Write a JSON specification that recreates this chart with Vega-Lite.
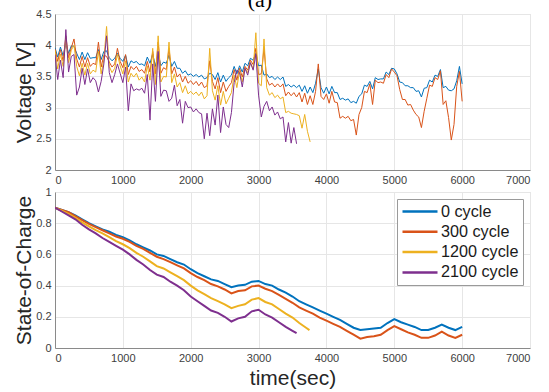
{
"$schema":"https://vega.github.io/schema/vega-lite/v6.json",
"padding":{"left":13,"top":-12,"right":0,"bottom":0},
"title":{"text":"(a)","font":"Liberation Serif","fontSize":22,"fontWeight":"normal","color":"#000000","anchor":"middle","offset":-4,"dx":-12},
"spacing":-1,
"resolve":{"scale":{"color":"independent"}},
"config":{
"view":{"stroke":"#d4d4d4"},
"axis":{"labelFont":"Liberation Sans","labelFontSize":11,"labelColor":"#404040","titleFont":"Liberation Sans","titleFontSize":21,"titleFontWeight":"normal","titleColor":"#262626","gridColor":"#e6e6e6","domainColor":"#8a8a8a","ticks":false,"labelPadding":4},
"legend":{"labelFont":"Liberation Sans","labelFontSize":16.2,"labelColor":"#1a1a1a","symbolType":"M-1,0H4","symbolSize":196,"symbolStrokeWidth":2.5,"strokeColor":"#9a9a9a","fillColor":"#ffffff","padding":4,"labelOffset":23,"rowPadding":3.3}
},
"datasets":{
"v0":[{"t":0,"v":3.96},{"t":40,"v":3.81},{"t":80,"v":3.97},{"t":120,"v":3.83},{"t":160,"v":4.03},{"t":200,"v":3.87},{"t":240,"v":3.99},{"t":280,"v":3.98},{"t":320,"v":3.87},{"t":360,"v":3.77},{"t":400,"v":3.89},{"t":440,"v":3.77},{"t":480,"v":3.88},{"t":520,"v":3.79},{"t":560,"v":3.8},{"t":600,"v":3.8},{"t":640,"v":3.93},{"t":680,"v":3.77},{"t":720,"v":3.9},{"t":760,"v":3.91},{"t":800,"v":3.8},{"t":840,"v":3.75},{"t":880,"v":3.79},{"t":920,"v":3.87},{"t":960,"v":3.79},{"t":1000,"v":3.74},{"t":1040,"v":3.84},{"t":1080,"v":3.65},{"t":1120,"v":3.75},{"t":1160,"v":3.72},{"t":1200,"v":3.74},{"t":1240,"v":3.69},{"t":1280,"v":3.7},{"t":1320,"v":3.67},{"t":1360,"v":3.81},{"t":1400,"v":3.71},{"t":1440,"v":3.86},{"t":1480,"v":3.66},{"t":1520,"v":3.87},{"t":1560,"v":3.67},{"t":1600,"v":3.73},{"t":1640,"v":3.71},{"t":1680,"v":3.84},{"t":1720,"v":3.66},{"t":1760,"v":3.74},{"t":1800,"v":3.63},{"t":1840,"v":3.63},{"t":1880,"v":3.55},{"t":1920,"v":3.59},{"t":1960,"v":3.52},{"t":2000,"v":3.54},{"t":2040,"v":3.5},{"t":2080,"v":3.53},{"t":2120,"v":3.49},{"t":2160,"v":3.52},{"t":2200,"v":3.46},{"t":2240,"v":3.48},{"t":2280,"v":3.55},{"t":2320,"v":3.53},{"t":2360,"v":3.45},{"t":2400,"v":3.56},{"t":2440,"v":3.41},{"t":2480,"v":3.52},{"t":2520,"v":3.42},{"t":2560,"v":3.48},{"t":2600,"v":3.52},{"t":2640,"v":3.66},{"t":2680,"v":3.54},{"t":2720,"v":3.67},{"t":2760,"v":3.57},{"t":2800,"v":3.71},{"t":2840,"v":3.67},{"t":2880,"v":3.79},{"t":2920,"v":3.76},{"t":2960,"v":3.87},{"t":3000,"v":3.67},{"t":3040,"v":3.68},{"t":3080,"v":3.52},{"t":3120,"v":3.54},{"t":3160,"v":3.48},{"t":3200,"v":3.5},{"t":3240,"v":3.45},{"t":3280,"v":3.49},{"t":3320,"v":3.45},{"t":3360,"v":3.49},{"t":3400,"v":3.34},{"t":3440,"v":3.37},{"t":3480,"v":3.33},{"t":3520,"v":3.36},{"t":3560,"v":3.32},{"t":3600,"v":3.36},{"t":3640,"v":3.26},{"t":3680,"v":3.35},{"t":3720,"v":3.23},{"t":3760,"v":3.33},{"t":3800,"v":3.24},{"t":3840,"v":3.39},{"t":3880,"v":3.62},{"t":3920,"v":3.32},{"t":3960,"v":3.23},{"t":4000,"v":3.33},{"t":4040,"v":3.22},{"t":4080,"v":3.34},{"t":4120,"v":3.24},{"t":4160,"v":3.24},{"t":4200,"v":3.13},{"t":4240,"v":3.15},{"t":4280,"v":3.12},{"t":4320,"v":3.14},{"t":4360,"v":3.08},{"t":4400,"v":3.1},{"t":4440,"v":3.07},{"t":4480,"v":3.18},{"t":4520,"v":3.22},{"t":4560,"v":3.36},{"t":4600,"v":3.34},{"t":4640,"v":3.42},{"t":4680,"v":3.3},{"t":4720,"v":3.48},{"t":4760,"v":3.45},{"t":4800,"v":3.46},{"t":4840,"v":3.46},{"t":4880,"v":3.57},{"t":4920,"v":3.53},{"t":4960,"v":3.63},{"t":5000,"v":3.62},{"t":5040,"v":3.54},{"t":5080,"v":3.41},{"t":5120,"v":3.4},{"t":5160,"v":3.35},{"t":5200,"v":3.35},{"t":5240,"v":3.32},{"t":5280,"v":3.32},{"t":5320,"v":3.26},{"t":5360,"v":3.27},{"t":5400,"v":3.17},{"t":5440,"v":3.31},{"t":5480,"v":3.32},{"t":5520,"v":3.44},{"t":5560,"v":3.41},{"t":5600,"v":3.52},{"t":5640,"v":3.5},{"t":5680,"v":3.61},{"t":5720,"v":3.32},{"t":5760,"v":3.34},{"t":5800,"v":3.28},{"t":5840,"v":3.27},{"t":5880,"v":3.3},{"t":5920,"v":3.43},{"t":5960,"v":3.66},{"t":6000,"v":3.38}],
"v300":[{"t":0,"v":3.94},{"t":40,"v":3.74},{"t":80,"v":3.93},{"t":120,"v":3.75},{"t":160,"v":4.15},{"t":200,"v":3.8},{"t":240,"v":3.96},{"t":280,"v":4.1},{"t":320,"v":3.78},{"t":360,"v":3.65},{"t":400,"v":3.82},{"t":440,"v":3.65},{"t":480,"v":3.8},{"t":520,"v":3.66},{"t":560,"v":3.71},{"t":600,"v":3.69},{"t":640,"v":4.05},{"t":680,"v":3.65},{"t":720,"v":3.84},{"t":760,"v":3.82},{"t":800,"v":3.73},{"t":840,"v":3.65},{"t":880,"v":3.7},{"t":920,"v":3.95},{"t":960,"v":3.74},{"t":1000,"v":3.64},{"t":1040,"v":3.85},{"t":1080,"v":3.53},{"t":1120,"v":3.66},{"t":1160,"v":3.61},{"t":1200,"v":3.66},{"t":1240,"v":3.58},{"t":1280,"v":3.61},{"t":1320,"v":3.55},{"t":1360,"v":3.74},{"t":1400,"v":3.57},{"t":1440,"v":3.9},{"t":1480,"v":3.54},{"t":1520,"v":4.05},{"t":1560,"v":3.55},{"t":1600,"v":3.64},{"t":1640,"v":3.61},{"t":1680,"v":3.95},{"t":1720,"v":3.54},{"t":1760,"v":3.65},{"t":1800,"v":3.49},{"t":1840,"v":3.54},{"t":1880,"v":3.41},{"t":1920,"v":3.5},{"t":1960,"v":3.39},{"t":2000,"v":3.43},{"t":2040,"v":3.37},{"t":2080,"v":3.42},{"t":2120,"v":3.35},{"t":2160,"v":3.41},{"t":2200,"v":3.32},{"t":2240,"v":3.35},{"t":2280,"v":3.75},{"t":2320,"v":3.42},{"t":2360,"v":3.3},{"t":2400,"v":3.48},{"t":2440,"v":3.24},{"t":2480,"v":3.41},{"t":2520,"v":3.26},{"t":2560,"v":3.34},{"t":2600,"v":3.4},{"t":2640,"v":3.61},{"t":2680,"v":3.44},{"t":2720,"v":3.63},{"t":2760,"v":3.49},{"t":2800,"v":3.66},{"t":2840,"v":3.6},{"t":2880,"v":3.76},{"t":2920,"v":3.69},{"t":2960,"v":3.95},{"t":3000,"v":3.53},{"t":3040,"v":3.54},{"t":3080,"v":3.95},{"t":3120,"v":3.46},{"t":3160,"v":3.36},{"t":3200,"v":3.39},{"t":3240,"v":3.33},{"t":3280,"v":3.38},{"t":3320,"v":3.33},{"t":3360,"v":3.38},{"t":3400,"v":3.19},{"t":3440,"v":3.25},{"t":3480,"v":3.19},{"t":3520,"v":3.24},{"t":3560,"v":3.17},{"t":3600,"v":3.24},{"t":3640,"v":3.09},{"t":3680,"v":3.23},{"t":3720,"v":3.05},{"t":3760,"v":3.19},{"t":3800,"v":3.05},{"t":3840,"v":3.26},{"t":3880,"v":3.7},{"t":3920,"v":3.18},{"t":3960,"v":3.13},{"t":4000,"v":3.22},{"t":4040,"v":3.07},{"t":4080,"v":3.26},{"t":4120,"v":3.09},{"t":4160,"v":3.08},{"t":4200,"v":2.83},{"t":4240,"v":2.86},{"t":4280,"v":2.83},{"t":4320,"v":2.86},{"t":4360,"v":2.79},{"t":4400,"v":2.81},{"t":4440,"v":2.56},{"t":4480,"v":2.89},{"t":4520,"v":3.0},{"t":4560,"v":3.26},{"t":4600,"v":3.24},{"t":4640,"v":3.38},{"t":4680,"v":3.05},{"t":4720,"v":3.44},{"t":4760,"v":3.4},{"t":4800,"v":3.41},{"t":4840,"v":3.39},{"t":4880,"v":3.53},{"t":4920,"v":3.48},{"t":4960,"v":3.62},{"t":5000,"v":3.57},{"t":5040,"v":3.51},{"t":5080,"v":3.29},{"t":5120,"v":3.13},{"t":5160,"v":3.13},{"t":5200,"v":3.04},{"t":5240,"v":3.05},{"t":5280,"v":2.96},{"t":5320,"v":2.89},{"t":5360,"v":2.85},{"t":5400,"v":2.68},{"t":5440,"v":2.94},{"t":5480,"v":3.15},{"t":5520,"v":3.36},{"t":5560,"v":3.34},{"t":5600,"v":3.48},{"t":5640,"v":3.45},{"t":5680,"v":3.59},{"t":5720,"v":3.05},{"t":5760,"v":3.11},{"t":5800,"v":2.84},{"t":5840,"v":2.48},{"t":5880,"v":2.73},{"t":5920,"v":3.34},{"t":5960,"v":3.58},{"t":6000,"v":3.1}],
"v1200":[{"t":0,"v":3.92},{"t":40,"v":3.62},{"t":80,"v":3.86},{"t":120,"v":3.66},{"t":160,"v":4.1},{"t":200,"v":3.72},{"t":240,"v":3.92},{"t":280,"v":4.0},{"t":320,"v":3.66},{"t":360,"v":3.51},{"t":400,"v":3.71},{"t":440,"v":3.52},{"t":480,"v":3.71},{"t":520,"v":3.54},{"t":560,"v":3.6},{"t":600,"v":3.57},{"t":640,"v":3.9},{"t":680,"v":3.54},{"t":720,"v":3.77},{"t":760,"v":4.3},{"t":800,"v":3.66},{"t":840,"v":3.56},{"t":880,"v":3.63},{"t":920,"v":3.85},{"t":960,"v":3.67},{"t":1000,"v":3.54},{"t":1040,"v":3.75},{"t":1080,"v":3.41},{"t":1120,"v":3.55},{"t":1160,"v":3.49},{"t":1200,"v":3.55},{"t":1240,"v":3.44},{"t":1280,"v":3.49},{"t":1320,"v":3.41},{"t":1360,"v":3.67},{"t":1400,"v":3.44},{"t":1440,"v":3.95},{"t":1480,"v":3.37},{"t":1520,"v":4.15},{"t":1560,"v":3.41},{"t":1600,"v":3.5},{"t":1640,"v":3.49},{"t":1680,"v":4.05},{"t":1720,"v":3.4},{"t":1760,"v":3.54},{"t":1800,"v":3.33},{"t":1840,"v":3.4},{"t":1880,"v":3.24},{"t":1920,"v":3.35},{"t":1960,"v":3.22},{"t":2000,"v":3.26},{"t":2040,"v":3.21},{"t":2080,"v":3.25},{"t":2120,"v":3.19},{"t":2160,"v":3.25},{"t":2200,"v":3.14},{"t":2240,"v":3.19},{"t":2280,"v":3.95},{"t":2320,"v":3.27},{"t":2360,"v":3.12},{"t":2400,"v":3.35},{"t":2440,"v":3.04},{"t":2480,"v":3.26},{"t":2520,"v":3.06},{"t":2560,"v":3.15},{"t":2600,"v":3.24},{"t":2640,"v":3.52},{"t":2680,"v":3.32},{"t":2720,"v":3.59},{"t":2760,"v":3.41},{"t":2800,"v":3.63},{"t":2840,"v":3.56},{"t":2880,"v":3.72},{"t":2920,"v":3.62},{"t":2960,"v":4.2},{"t":3000,"v":3.39},{"t":3040,"v":3.35},{"t":3080,"v":4.1},{"t":3120,"v":3.32},{"t":3160,"v":3.2},{"t":3200,"v":3.24},{"t":3240,"v":3.16},{"t":3280,"v":3.2},{"t":3320,"v":3.14},{"t":3360,"v":3.17},{"t":3400,"v":2.92},{"t":3440,"v":2.94},{"t":3480,"v":2.91},{"t":3520,"v":2.9},{"t":3560,"v":2.89},{"t":3600,"v":2.87},{"t":3640,"v":2.67},{"t":3680,"v":2.89},{"t":3720,"v":2.62},{"t":3760,"v":2.45}],
"v2100":[{"t":0,"v":3.85},{"t":40,"v":3.45},{"t":80,"v":3.76},{"t":120,"v":3.48},{"t":160,"v":4.25},{"t":200,"v":3.57},{"t":240,"v":3.82},{"t":280,"v":3.85},{"t":320,"v":3.2},{"t":360,"v":3.33},{"t":400,"v":3.63},{"t":440,"v":3.37},{"t":480,"v":3.62},{"t":520,"v":3.4},{"t":560,"v":3.48},{"t":600,"v":3.43},{"t":640,"v":3.25},{"t":680,"v":3.42},{"t":720,"v":3.7},{"t":760,"v":4.15},{"t":800,"v":3.56},{"t":840,"v":3.4},{"t":880,"v":3.53},{"t":920,"v":3.7},{"t":960,"v":3.55},{"t":1000,"v":3.4},{"t":1040,"v":3.65},{"t":1080,"v":2.95},{"t":1120,"v":3.38},{"t":1160,"v":3.27},{"t":1200,"v":3.3},{"t":1240,"v":3.28},{"t":1280,"v":3.31},{"t":1320,"v":3.23},{"t":1360,"v":3.53},{"t":1400,"v":2.8},{"t":1440,"v":3.7},{"t":1480,"v":3.1},{"t":1520,"v":3.9},{"t":1560,"v":3.18},{"t":1600,"v":3.28},{"t":1640,"v":3.27},{"t":1680,"v":3.1},{"t":1720,"v":3.15},{"t":1760,"v":3.36},{"t":1800,"v":3.03},{"t":1840,"v":3.13},{"t":1880,"v":2.75},{"t":1920,"v":3.1},{"t":1960,"v":3.0},{"t":2000,"v":3.01},{"t":2040,"v":2.93},{"t":2080,"v":2.98},{"t":2120,"v":2.92},{"t":2160,"v":2.9},{"t":2200,"v":2.5},{"t":2240,"v":2.91},{"t":2280,"v":2.55},{"t":2320,"v":2.98},{"t":2360,"v":2.72},{"t":2400,"v":3.2},{"t":2440,"v":2.6},{"t":2480,"v":3.01},{"t":2520,"v":2.73},{"t":2560,"v":2.68},{"t":2600,"v":2.92},{"t":2640,"v":3.4},{"t":2680,"v":3.6},{"t":2720,"v":3.56},{"t":2760,"v":3.33},{"t":2800,"v":3.63},{"t":2840,"v":3.52},{"t":2880,"v":3.72},{"t":2920,"v":3.6},{"t":2960,"v":3.85},{"t":3000,"v":3.2},{"t":3040,"v":2.85},{"t":3080,"v":3.02},{"t":3120,"v":3.1},{"t":3160,"v":2.95},{"t":3200,"v":3.01},{"t":3240,"v":2.88},{"t":3280,"v":2.93},{"t":3320,"v":2.82},{"t":3360,"v":2.85},{"t":3400,"v":2.45},{"t":3440,"v":2.76},{"t":3480,"v":2.43},{"t":3520,"v":2.68},{"t":3560,"v":2.42}],
"q0":[{"t":0,"q":0.9},{"t":100,"q":0.885},{"t":200,"q":0.87},{"t":300,"q":0.85},{"t":400,"q":0.825},{"t":500,"q":0.8},{"t":600,"q":0.78},{"t":700,"q":0.76},{"t":800,"q":0.745},{"t":900,"q":0.725},{"t":1000,"q":0.71},{"t":1100,"q":0.69},{"t":1200,"q":0.665},{"t":1300,"q":0.645},{"t":1400,"q":0.625},{"t":1500,"q":0.6},{"t":1600,"q":0.59},{"t":1700,"q":0.57},{"t":1800,"q":0.55},{"t":1900,"q":0.535},{"t":2000,"q":0.505},{"t":2100,"q":0.48},{"t":2200,"q":0.46},{"t":2300,"q":0.44},{"t":2400,"q":0.43},{"t":2500,"q":0.41},{"t":2600,"q":0.39},{"t":2700,"q":0.4},{"t":2800,"q":0.405},{"t":2900,"q":0.425},{"t":3000,"q":0.43},{"t":3100,"q":0.41},{"t":3200,"q":0.4},{"t":3300,"q":0.375},{"t":3400,"q":0.355},{"t":3500,"q":0.33},{"t":3600,"q":0.3},{"t":3700,"q":0.28},{"t":3800,"q":0.26},{"t":3900,"q":0.24},{"t":4000,"q":0.22},{"t":4100,"q":0.2},{"t":4200,"q":0.18},{"t":4300,"q":0.155},{"t":4400,"q":0.13},{"t":4500,"q":0.115},{"t":4600,"q":0.12},{"t":4700,"q":0.125},{"t":4800,"q":0.13},{"t":4900,"q":0.16},{"t":5000,"q":0.185},{"t":5100,"q":0.165},{"t":5200,"q":0.15},{"t":5300,"q":0.135},{"t":5400,"q":0.115},{"t":5500,"q":0.115},{"t":5600,"q":0.13},{"t":5700,"q":0.15},{"t":5800,"q":0.13},{"t":5900,"q":0.115},{"t":6000,"q":0.135}],
"q300":[{"t":0,"q":0.9},{"t":100,"q":0.885},{"t":200,"q":0.87},{"t":300,"q":0.845},{"t":400,"q":0.82},{"t":500,"q":0.795},{"t":600,"q":0.775},{"t":700,"q":0.755},{"t":800,"q":0.735},{"t":900,"q":0.715},{"t":1000,"q":0.7},{"t":1100,"q":0.68},{"t":1200,"q":0.655},{"t":1300,"q":0.635},{"t":1400,"q":0.61},{"t":1500,"q":0.585},{"t":1600,"q":0.57},{"t":1700,"q":0.55},{"t":1800,"q":0.53},{"t":1900,"q":0.51},{"t":2000,"q":0.48},{"t":2100,"q":0.455},{"t":2200,"q":0.435},{"t":2300,"q":0.41},{"t":2400,"q":0.395},{"t":2500,"q":0.375},{"t":2600,"q":0.35},{"t":2700,"q":0.365},{"t":2800,"q":0.37},{"t":2900,"q":0.395},{"t":3000,"q":0.4},{"t":3100,"q":0.38},{"t":3200,"q":0.365},{"t":3300,"q":0.34},{"t":3400,"q":0.315},{"t":3500,"q":0.29},{"t":3600,"q":0.26},{"t":3700,"q":0.24},{"t":3800,"q":0.22},{"t":3900,"q":0.195},{"t":4000,"q":0.175},{"t":4100,"q":0.155},{"t":4200,"q":0.135},{"t":4300,"q":0.11},{"t":4400,"q":0.085},{"t":4500,"q":0.06},{"t":4600,"q":0.07},{"t":4700,"q":0.075},{"t":4800,"q":0.085},{"t":4900,"q":0.115},{"t":5000,"q":0.14},{"t":5100,"q":0.12},{"t":5200,"q":0.1},{"t":5300,"q":0.085},{"t":5400,"q":0.065},{"t":5500,"q":0.065},{"t":5600,"q":0.08},{"t":5700,"q":0.105},{"t":5800,"q":0.08},{"t":5900,"q":0.065},{"t":6000,"q":0.085}],
"q1200":[{"t":0,"q":0.9},{"t":100,"q":0.88},{"t":200,"q":0.86},{"t":300,"q":0.835},{"t":400,"q":0.805},{"t":500,"q":0.78},{"t":600,"q":0.755},{"t":700,"q":0.735},{"t":800,"q":0.71},{"t":900,"q":0.685},{"t":1000,"q":0.665},{"t":1100,"q":0.64},{"t":1200,"q":0.61},{"t":1300,"q":0.585},{"t":1400,"q":0.555},{"t":1500,"q":0.525},{"t":1600,"q":0.51},{"t":1700,"q":0.485},{"t":1800,"q":0.46},{"t":1900,"q":0.435},{"t":2000,"q":0.4},{"t":2100,"q":0.37},{"t":2200,"q":0.345},{"t":2300,"q":0.32},{"t":2400,"q":0.3},{"t":2500,"q":0.28},{"t":2600,"q":0.255},{"t":2700,"q":0.27},{"t":2800,"q":0.28},{"t":2900,"q":0.31},{"t":3000,"q":0.32},{"t":3100,"q":0.295},{"t":3200,"q":0.28},{"t":3300,"q":0.25},{"t":3400,"q":0.22},{"t":3500,"q":0.195},{"t":3600,"q":0.16},{"t":3700,"q":0.13},{"t":3750,"q":0.115}],
"q2100":[{"t":0,"q":0.9},{"t":100,"q":0.875},{"t":200,"q":0.85},{"t":300,"q":0.825},{"t":400,"q":0.79},{"t":500,"q":0.76},{"t":600,"q":0.735},{"t":700,"q":0.705},{"t":800,"q":0.68},{"t":900,"q":0.655},{"t":1000,"q":0.63},{"t":1100,"q":0.6},{"t":1200,"q":0.565},{"t":1300,"q":0.535},{"t":1400,"q":0.5},{"t":1500,"q":0.47},{"t":1600,"q":0.455},{"t":1700,"q":0.425},{"t":1800,"q":0.4},{"t":1900,"q":0.37},{"t":2000,"q":0.33},{"t":2100,"q":0.3},{"t":2200,"q":0.27},{"t":2300,"q":0.24},{"t":2400,"q":0.225},{"t":2500,"q":0.2},{"t":2600,"q":0.17},{"t":2700,"q":0.19},{"t":2800,"q":0.2},{"t":2900,"q":0.235},{"t":3000,"q":0.245},{"t":3100,"q":0.215},{"t":3200,"q":0.195},{"t":3300,"q":0.165},{"t":3400,"q":0.135},{"t":3500,"q":0.11},{"t":3560,"q":0.095}]
},
"vconcat":[
{"width":475,"height":156,
"encoding":{
"x":{"field":"t","type":"quantitative","scale":{"domain":[0,7000],"nice":false},"axis":{"title":null,"values":[0,1000,2000,3000,4000,5000,6000,7000],"format":"d"}},
"y":{"field":"v","type":"quantitative","scale":{"domain":[2,4.5],"nice":false,"zero":false},"axis":{"title":"Voltage [V]","values":[2,2.5,3,3.5,4,4.5],"format":"~g","titlePadding":1}}
},
"layer":[
{"data":{"name":"v0"},"mark":{"type":"line","strokeWidth":1,"clip":true},"encoding":{"color":{"datum":"0 cycle","type":"nominal","legend":null,"scale":{"domain":["0 cycle","300 cycle","1200 cycle","2100 cycle"],"range":["#0072BD","#D95319","#EDB120","#7E2F8E"]}}}},
{"data":{"name":"v300"},"mark":{"type":"line","strokeWidth":1,"clip":true},"encoding":{"color":{"datum":"300 cycle","type":"nominal","legend":null}}},
{"data":{"name":"v1200"},"mark":{"type":"line","strokeWidth":1,"clip":true},"encoding":{"color":{"datum":"1200 cycle","type":"nominal","legend":null}}},
{"data":{"name":"v2100"},"mark":{"type":"line","strokeWidth":1,"clip":true},"encoding":{"color":{"datum":"2100 cycle","type":"nominal","legend":null}}}
]},
{"width":475,"height":156,
"encoding":{
"x":{"field":"t","type":"quantitative","scale":{"domain":[0,7000],"nice":false},"axis":{"title":"time(sec)","values":[0,1000,2000,3000,4000,5000,6000,7000],"format":"d","titlePadding":4}},
"y":{"field":"q","type":"quantitative","scale":{"domain":[0,1],"nice":false},"axis":{"title":"State-of-Charge","values":[0,0.2,0.4,0.6,0.8,1],"format":"~g","titlePadding":1}}
},
"layer":[
{"data":{"name":"q0"},"mark":{"type":"line","strokeWidth":2,"clip":true},"encoding":{"color":{"datum":"0 cycle","type":"nominal","scale":{"domain":["0 cycle","300 cycle","1200 cycle","2100 cycle"],"range":["#0072BD","#D95319","#EDB120","#7E2F8E"]},"legend":{"title":null,"orient":"top-right","offset":7}}}},
{"data":{"name":"q300"},"mark":{"type":"line","strokeWidth":2,"clip":true},"encoding":{"color":{"datum":"300 cycle","type":"nominal"}}},
{"data":{"name":"q1200"},"mark":{"type":"line","strokeWidth":2,"clip":true},"encoding":{"color":{"datum":"1200 cycle","type":"nominal"}}},
{"data":{"name":"q2100"},"mark":{"type":"line","strokeWidth":2,"clip":true},"encoding":{"color":{"datum":"2100 cycle","type":"nominal"}}}
]}
]
}
